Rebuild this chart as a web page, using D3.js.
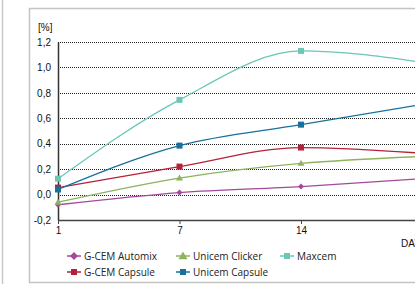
<!DOCTYPE html>
<html>
<head>
<meta charset="utf-8">
<script src="https://cdn.jsdelivr.net/npm/d3@7"></script>
<style>
  body { margin: 0; background: #fff; }
  svg { display: block; }
  .tick-label { font-family: "Liberation Sans", Arial, sans-serif; font-size: 10px; fill: #111; }
  .legend-label { font-family: "Open Sans", sans-serif; font-size: 10px; fill: #222; }
</style>
</head>
<body>
<div id="chart"></div>
<script>
// days measured (last one lies past the right edge of the picture)
const days = ["1", "7", "14", "21"];
const yTicks = [-0.2, 0, 0.2, 0.4, 0.6, 0.8, 1.0, 1.2];

const gcemAutomix = [-0.08, 0.016, 0.063, 0.125];
const unicemClicker = [-0.06, 0.13, 0.245, 0.30];
const maxcem = [0.125, 0.745, 1.13, 1.04];
const gcemCapsule = [0.055, 0.22, 0.37, 0.325];
const unicemCapsule = [0.04, 0.385, 0.55, 0.71];

const seriesNames = ["G-CEM Automix", "Unicem Clicker", "Maxcem", "G-CEM Capsule", "Unicem Capsule"];
const seriesValues = [gcemAutomix, unicemClicker, maxcem, gcemCapsule, unicemCapsule];

const colors = ["#a4489c", "#8db35e", "#6bc6b8", "#b5203a", "#17709d"];
const markers = ["diamond", "triangle", "square", "square", "square"];

const width = 415, height = 284;
const margin = { top: 42, left: 58, bottom: 64 };

const svg = d3.select("#chart")
  .append("svg")
  .attr("width", width)
  .attr("height", height)
  .attr("viewBox", [0, 0, width, height]);

// panel frames
svg.append("line")
  .attr("x1", 2.5).attr("x2", 2.5).attr("y1", 0).attr("y2", height)
  .attr("stroke", "#c8c8c8").attr("stroke-width", 1.5);
svg.append("path")
  .attr("d", `M${width},8.5 H29.5 V282.5 H${width}`)
  .attr("fill", "none")
  .attr("stroke", "#c4c4c4")
  .attr("stroke-width", 1.5);

let x = d3.scalePoint()
  .domain(days)
  .range([margin.left, margin.left + 3 * 121.5]);

let y = d3.scaleLinear()
  .domain([-0.2, 1.2])
  .range([height - margin.bottom, margin.top]);

// dotted gridlines
svg.append("g")
  .selectAll("line")
  .data(yTicks.filter(d => d > -0.2))
  .join("line")
    .attr("x1", margin.left)
    .attr("x2", width)
    .attr("y1", d => Math.round(y(d)) + 0.5)
    .attr("y2", d => Math.round(y(d)) + 0.5)
    .attr("stroke", "#222")
    .attr("stroke-width", 1)
    .attr("stroke-dasharray", "1,1");

// y axis
svg.append("g")
  .attr("transform", `translate(${margin.left},0)`)
  .call(d3.axisLeft(y)
    .tickValues(yTicks)
    .tickFormat(d => d3.format(".1f")(d).replace(".", ",").replace("−", "-"))
    .tickSize(0)
    .tickPadding(7))
  .call(g => g.select(".domain").attr("stroke", "#333").attr("stroke-width", 1.5))
  .call(g => g.selectAll(".tick text").attr("class", "tick-label").attr("font-size", null).attr("font-family", null));

// x axis (only the days inside the picture get a tick)
svg.append("g")
  .attr("transform", `translate(0,${y(-0.2)})`)
  .call(d3.axisBottom(x).tickValues(days.slice(0, 3)).tickSize(4).tickSizeOuter(0).tickPadding(3))
  .call(g => g.select(".domain").attr("stroke", "#444").attr("stroke-width", 1.5))
  .call(g => g.selectAll(".tick line").attr("stroke", "#444"))
  .call(g => g.selectAll(".tick text").attr("class", "tick-label").attr("font-size", null).attr("font-family", null));

svg.append("text")
  .attr("class", "tick-label")
  .attr("x", 38)
  .attr("y", 31)
  .text("[%]");

svg.append("text")
  .attr("class", "tick-label")
  .attr("x", 401)
  .attr("y", 247)
  .text("DAYS");

let line = d3.line()
  .x((d, i) => x(days[i]))
  .y(d => y(d))
  .curve(d3.curveMonotoneX);

function drawMarker(g, type, color, cx, cy, legend) {
  if (type === "square") {
    let s = 6;
    g.append("rect")
      .attr("x", cx - s / 2).attr("y", cy - s / 2)
      .attr("width", s).attr("height", s)
      .attr("fill", color);
  } else if (type === "diamond") {
    let r = legend ? 4 : 3;
    g.append("path")
      .attr("d", `M${cx},${cy - r} L${cx + r},${cy} L${cx},${cy + r} L${cx - r},${cy} Z`)
      .attr("fill", color);
  } else {
    let r = legend ? 4.5 : 3.5;
    g.append("path")
      .attr("d", `M${cx},${cy - r} L${cx + r},${cy + r * 0.7} L${cx - r},${cy + r * 0.7} Z`)
      .attr("fill", color);
  }
}

seriesValues.forEach((vals, k) => {
  let g = svg.append("g");
  g.append("path")
    .datum(vals)
    .attr("d", line)
    .attr("fill", "none")
    .attr("stroke", colors[k])
    .attr("stroke-width", 1.3);
  vals.forEach((v, i) => drawMarker(g, markers[k], colors[k], x(days[i]), y(v), false));
});

// legend
const legendPos = [[74, 256], [183, 256], [287, 256], [74, 272], [183, 272]];
seriesNames.forEach((name, k) => {
  let [lx, ly] = legendPos[k];
  let g = svg.append("g");
  g.append("line")
    .attr("x1", lx - 7).attr("x2", lx + 7)
    .attr("y1", ly).attr("y2", ly)
    .attr("stroke", colors[k])
    .attr("stroke-width", 1.5);
  drawMarker(g, markers[k], colors[k], lx, ly, true);
  g.append("text")
    .attr("class", "legend-label")
    .attr("x", lx + 10)
    .attr("y", ly + 3.5)
    .text(name);
});
</script>
</body>
</html>
